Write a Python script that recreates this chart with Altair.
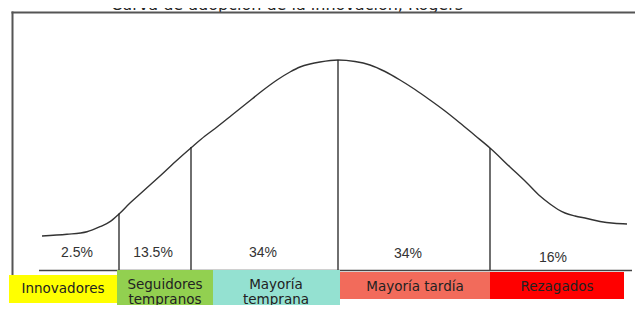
import altair as alt
import pandas as pd

# ---------------- data ----------------
title_text = "Curva de adopción de la innovación, Rogers"

# bell curve (horizontal position, height in chart units; larger y = lower on the page)
curve_x = [42, 67, 87, 100, 110, 119, 130, 140, 150, 160, 175, 192, 205, 217, 232, 247, 262, 277,
           290, 300, 310, 320, 338, 355, 370, 385, 400, 415, 430, 445, 460, 475, 490, 510, 527, 540,
           550, 558, 565, 575, 587, 600, 614, 627]
curve_y = [236, 234.3, 231.7, 226.7, 221.7, 214, 203, 194, 185, 176, 162, 147, 136, 127, 115, 103,
           91, 80, 72, 67, 64, 62, 60, 61.5, 65, 71.5, 80, 89.5, 100, 111, 123, 135.5, 148, 167,
           183, 196, 204, 209.5, 213, 216, 218.5, 221.5, 223.3, 224]

# dividers between segments
divider_x = [119, 191, 338, 490]
divider_top = [213.5, 147, 60, 148]
divider_bottom = [270.5, 270.5, 270.5, 270.5]

# baseline
base_x = [39, 632]
base_y = [270.5, 270.5]

# frame: left border and top border (thin rectangles)
frame_x0 = [11.5, 11.5]
frame_x1 = [13.5, 635]
frame_y0 = [11.5, 11.5]
frame_y1 = [276, 13.5]

# percentage labels
pct_labels = ["2.5%", "13.5%", "34%", "34%", "16%"]
pct_x = [77, 153, 263, 408, 553]
pct_y = [253, 253, 253, 254, 258]

# adopter categories
categories = ["Innovadores", "Seguidores tempranos", "Mayoría temprana", "Mayoría tardía", "Rezagados"]
cat_text = ["Innovadores", "Seguidores\ntempranos", "Mayoría\ntemprana", "Mayoría tardía", "Rezagados"]
cat_colors = ["#FFFF00", "#92D050", "#94E1D1", "#F26B5B", "#FF0000"]
box_x0 = [9, 117, 213, 340, 490]
box_x1 = [117, 213, 340, 490, 624]
box_y0 = [275, 270, 270, 272, 272]
box_y1 = [303, 316, 316, 299, 299]
label_x = [63, 165, 276, 415, 557]
label_y = [289, 284.5, 284.5, 286.5, 286.5]

# ---------------- chart ----------------
XS = alt.Scale(domain=[8, 635], nice=False, zero=False)
YS = alt.Scale(domain=[8, 305], nice=False, zero=False, reverse=True)


def X(f):
    return alt.X(f, type="quantitative", scale=XS, axis=None)


def Y(f):
    return alt.Y(f, type="quantitative", scale=YS, axis=None)


curve_df = pd.DataFrame({"x": curve_x, "y": curve_y})
div_df = pd.DataFrame({"x": divider_x, "top": divider_top, "bottom": divider_bottom})
base_df = pd.DataFrame({"x": [base_x[0]], "x2": [base_x[1]], "y": [base_y[0]]})
frame_df = pd.DataFrame({"x0": frame_x0, "x1": frame_x1, "y0": frame_y0, "y1": frame_y1})
pct_df = pd.DataFrame({"t": pct_labels, "x": pct_x, "y": pct_y})
box_df = pd.DataFrame({"cat": categories, "text": cat_text, "x0": box_x0, "x1": box_x1,
                       "y0": box_y0, "y1": box_y1, "lx": label_x, "ly": label_y})
title_df = pd.DataFrame({"t": [title_text], "x": [287], "y": [10]})

title = alt.Chart(title_df).mark_text(
    font="DejaVu Sans", fontSize=16, color="#222", baseline="alphabetic", align="center"
).encode(x=X("x"), y=Y("y"), text="t:N")

frame = alt.Chart(frame_df).mark_rect(color="#555").encode(
    x=X("x0"), x2="x1", y=Y("y0"), y2="y1")

curve = alt.Chart(curve_df).mark_line(color="#333", strokeWidth=1.4, interpolate="monotone").encode(
    x=X("x"), y=Y("y"))

dividers = alt.Chart(div_df).mark_rule(color="#222", strokeWidth=1.3).encode(
    x=X("x"), y=Y("top"), y2="bottom")

baseline = alt.Chart(base_df).mark_rule(color="#444", strokeWidth=1.5).encode(
    x=X("x"), x2="x2", y=Y("y"))

pcts = alt.Chart(pct_df).mark_text(
    font="Liberation Sans", fontSize=14, color="#333", align="center", baseline="middle"
).encode(x=X("x"), y=Y("y"), text="t:N")

boxes = alt.Chart(box_df).mark_rect().encode(
    x=X("x0"), x2="x1", y=Y("y0"), y2="y1",
    color=alt.Color("cat:N", scale=alt.Scale(domain=categories, range=cat_colors), legend=None),
)

box_labels = alt.Chart(box_df).mark_text(
    font="DejaVu Sans", fontSize=13.5, color="#222", align="center", baseline="middle",
    lineBreak="\n", lineHeight=15
).encode(x=X("lx"), y=Y("ly"), text="text:N")

chart = alt.layer(title, frame, curve, dividers, baseline, pcts, boxes, box_labels).properties(
    width=627, height=297, padding=0,
    autosize=alt.AutoSizeParams(type="none"),
    background="white",
).configure_view(stroke=None)

chart.save("out.html", embed_options={"renderer": "svg", "actions": False})
